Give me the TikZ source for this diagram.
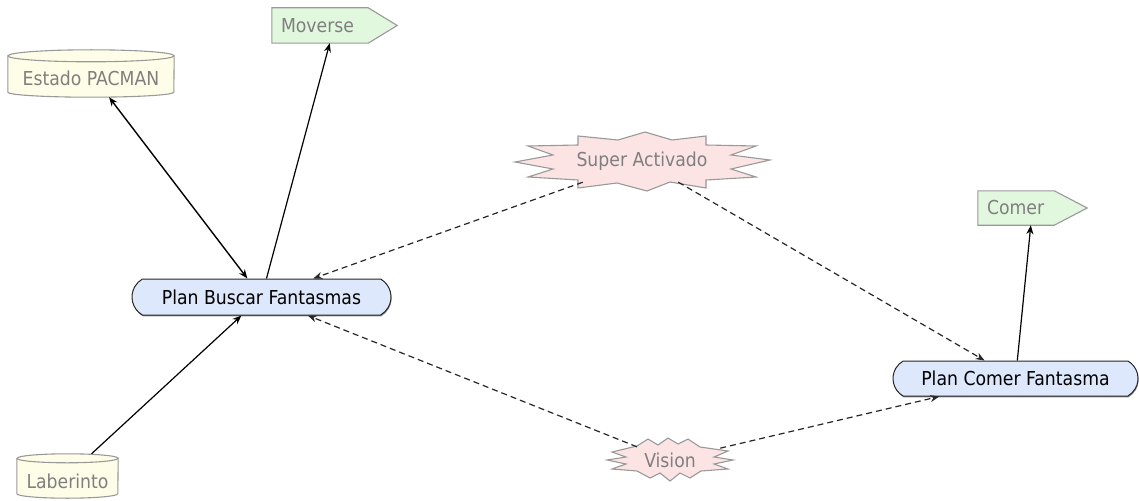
\documentclass[tikz,border=0pt]{standalone}
\usepackage{fontspec}
\setmainfont{DejaVu Sans Condensed}
\usetikzlibrary{arrows.meta,shapes.misc,backgrounds,calc,shadows}
\definecolor{cylfill}{HTML}{FEFEE8}
\definecolor{sigfill}{HTML}{E2F8DE}
\definecolor{starfill}{HTML}{FCE4E4}
\definecolor{planfill}{HTML}{DDE8FC}
\definecolor{shapeline}{HTML}{999999}
\definecolor{labelgrey}{HTML}{7F7F7F}
\begin{document}
\begin{tikzpicture}[x=1pt,y=-1pt,
  font=\fontsize{19.2}{22}\selectfont,
  plan/.style={rounded rectangle, rounded rectangle arc length=120,
    draw=black!85, line width=1pt, fill=planfill, minimum height=36pt,
    inner sep=0pt, text=black,
    drop shadow={shadow xshift=0.6pt, shadow yshift=-1.3pt, fill=black!45, opacity=1}},
  store/.style={inner sep=0pt, text=labelgrey, text height=25pt, text depth=0pt},
  outbox/.style={inner xsep=9pt, inner ysep=0pt, align=left, text=labelgrey},
  event/.style={inner sep=0pt, text=labelgrey},
  shapeedge/.style={draw=shapeline, line width=1.1pt},
  link/.style={line width=1.2pt, draw=black, -{Stealth[length=9pt,width=7pt]}},
  twoway/.style={line width=1.4pt, draw=black, {Stealth[length=9pt,width=7pt]}-{Stealth[length=9pt,width=7pt]}},
  weak/.style={link, draw=black!85, dash pattern=on 6pt off 4pt},
]
\useasboundingbox (0,0) rectangle (1139,500);

% nodes
\node[store, minimum width=166pt, minimum height=47pt] (estado) at (91,73.5) {Estado PACMAN};
\node[store, minimum width=101pt, minimum height=44pt] (laberinto) at (67.5,476) {Laberinto};
\node[outbox, text width=107pt, minimum height=35pt] (moverse) at (334.5,25.5) {Moverse};
\node[outbox, text width=91pt, minimum height=34pt] (comer) at (1032.5,208) {Comer};
\node[plan, minimum width=259pt] (buscar) at (261.5,297) {Plan Buscar Fantasmas};
\node[plan, minimum width=245pt, minimum height=35pt] (comerplan) at (1015.5,378.5) {Plan Comer Fantasma};
\node[event, minimum width=128pt, minimum height=42pt] (super) at (642,161) {Super Activado};
\node[event, minimum width=100pt, minimum height=26pt] (vision) at (670,460) {Vision};

% outlines behind the labels
\begin{pgfonlayer}{background}
  % data stores
  \filldraw[shapeedge, fill=cylfill]
    ($(estado.north west)+(0,6)$) -- ($(estado.south west)+(0,-5)$)
    arc[start angle=180, end angle=0, x radius=83, y radius=5]
    -- ($(estado.north east)+(0,6)$)
    arc[start angle=0, end angle=-180, x radius=83, y radius=6] -- cycle;
  \draw[shapeedge] ($(estado.north west)+(0,6)$)
    arc[start angle=180, end angle=0, x radius=83, y radius=6];
  \filldraw[shapeedge, fill=cylfill]
    ($(laberinto.north west)+(0,4.5)$) -- ($(laberinto.south west)+(0,-4.5)$)
    arc[start angle=180, end angle=0, x radius=50.5, y radius=4.5]
    -- ($(laberinto.north east)+(0,4.5)$)
    arc[start angle=0, end angle=-180, x radius=50.5, y radius=4.5] -- cycle;
  \draw[shapeedge] ($(laberinto.north west)+(0,4.5)$)
    arc[start angle=180, end angle=0, x radius=50.5, y radius=4.5];
  % outputs
  \filldraw[shapeedge, fill=sigfill]
    (moverse.north west) -- ($(moverse.north east)+(-29,0)$) -- (moverse.east)
    -- ($(moverse.south east)+(-29,0)$) -- (moverse.south west) -- cycle;
  \filldraw[shapeedge, fill=sigfill]
    (comer.north west) -- ($(comer.north east)+(-33,0)$) -- (comer.east)
    -- ($(comer.south east)+(-33,0)$) -- (comer.south west) -- cycle;
  % events
  \begin{scope}[shift={(super.center)}]
    \filldraw[shapeedge, fill=starfill]
      (-64,-25) -- (-24,-21) -- (3,-29) -- (30,-21) -- (64,-25) -- (64,-16)
      -- (114,-15) -- (89,-6) -- (128,-1) -- (89,8) -- (114,16) -- (64,19)
      -- (64,27) -- (28,21) -- (5,30) -- (-25,22) -- (-64,27) -- (-64,19)
      -- (-114,16) -- (-89,8) -- (-127,1) -- (-89,-6) -- (-114,-15) -- (-64,-16) -- cycle;
  \end{scope}
  \begin{scope}[shift={(vision.center)}]
    \filldraw[shapeedge, fill=starfill]
      (-33,-14) -- (-22,-21) -- (-12,-15) -- (-2,-22) -- (8,-16) -- (18,-21)
      -- (30,-13) -- (58,-9) -- (44,-3) -- (63,0) -- (44,4) -- (58,9) -- (31,11)
      -- (20,18) -- (10,13) -- (0,21) -- (-10,13) -- (-20,18) -- (-33,11)
      -- (-58,9) -- (-44,4) -- (-63,0) -- (-44,-3) -- (-58,-8) -- cycle;
  \end{scope}
\end{pgfonlayer}

% connectors
\draw[twoway] (buscar) -- (estado);
\draw[link] (buscar) -- (moverse);
\draw[link] (laberinto) -- (buscar);
\draw[weak] (super) -- (buscar);
\draw[weak] (super) -- (comerplan);
\draw[weak] (vision) -- (buscar);
\draw[weak] (vision) -- (comerplan);
\draw[link] (comerplan) -- (comer);
\end{tikzpicture}
\end{document}
